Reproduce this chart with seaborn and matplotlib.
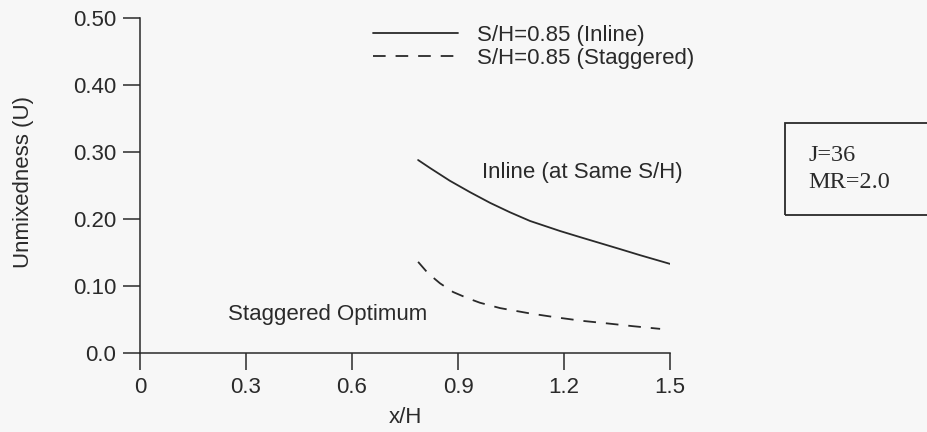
import matplotlib
matplotlib.use("Agg")
import matplotlib.pyplot as plt
import matplotlib.patches as mpatches
import numpy as np
import pandas as pd
import seaborn as sns

# Unmixedness vs. downstream distance, J=36, MR=2.0
inline_x = [0.787, 0.821, 0.877, 0.934, 0.991, 1.047, 1.104, 1.189, 1.245, 1.302, 1.359, 1.415, 1.500]
inline_u = [0.288, 0.276, 0.257, 0.240, 0.224, 0.210, 0.197, 0.182, 0.173, 0.164, 0.155, 0.146, 0.133]

staggered_x = [0.787, 0.815, 0.849, 0.886, 0.926, 0.962, 1.019, 1.104, 1.180, 1.251, 1.325, 1.395, 1.472]
staggered_u = [0.136, 0.119, 0.104, 0.091, 0.082, 0.075, 0.067, 0.059, 0.053, 0.048, 0.044, 0.040, 0.036]

series_labels = ["S/H=0.85 (Inline)", "S/H=0.85 (Staggered)"]
x_ticks = [0, 0.3, 0.6, 0.9, 1.2, 1.5]
x_tick_labels = ["0", "0.3", "0.6", "0.9", "1.2", "1.5"]
y_ticks = [0.0, 0.10, 0.20, 0.30, 0.40, 0.50]
y_tick_labels = ["0.0", "0.10", "0.20", "0.30", "0.40", "0.50"]

df = pd.concat([
    pd.DataFrame({"x": inline_x, "u": inline_u, "series": series_labels[0]}),
    pd.DataFrame({"x": staggered_x, "u": staggered_u, "series": series_labels[1]}),
])

sns.set_theme(style="ticks")
bg = "#f7f7f7"
ink = "#2a2a2a"
fs = 16
plt.rcParams["font.family"] = ["Liberation Sans", "DejaVu Sans"]

fig = plt.figure(figsize=(9.28, 4.32), dpi=100, facecolor=bg)
ax = fig.add_axes([0.1509, 0.1829, 0.5711, 0.7755])
ax.set_facecolor(bg)

sns.lineplot(data=df, x="x", y="u", style="series", style_order=series_labels,
             dashes={series_labels[0]: "", series_labels[1]: (7, 5.5)},
             color=ink, linewidth=1.3, sort=False, estimator=None, ax=ax)

handles, labels = ax.get_legend_handles_labels()
ax.legend(handles, labels, loc="upper left", bbox_to_anchor=(0.44, 0.98),
          frameon=False, fontsize=fs, handlelength=3.8, handletextpad=0.85,
          labelspacing=0.1, borderpad=0, borderaxespad=0, labelcolor=ink)

ax.set_xlim(0, 1.5)
ax.set_ylim(0, 0.5)
ax.set_xticks(x_ticks)
ax.set_xticklabels(x_tick_labels)
ax.set_yticks(y_ticks)
ax.set_yticklabels(y_tick_labels)
ax.tick_params(axis="both", direction="out", length=12, width=1.1, color=ink,
               labelsize=fs, labelcolor=ink, pad=5)
for side in ("top", "right"):
    ax.spines[side].set_visible(False)
for side in ("left", "bottom"):
    ax.spines[side].set_color(ink)
    ax.spines[side].set_linewidth(1.1)

ax.set_xlabel("x/H", fontsize=fs, color=ink, labelpad=7)
ax.set_ylabel("Unmixedness (U)", fontsize=fs, color=ink)
ax.yaxis.set_label_coords(-0.200, 0.51)

ax.text(0.968, 0.27, "Inline (at Same S/H)", fontsize=fs, color=ink, va="center", ha="left")
ax.text(0.249, 0.058, "Staggered Optimum", fontsize=fs, color=ink, va="center", ha="left")

# Operating-condition box at the right edge
box = mpatches.Rectangle((0.846, 0.502), 0.3, 0.213, transform=fig.transFigure,
                         fill=False, edgecolor=ink, linewidth=1.3, clip_on=False)
fig.patches.append(box)
serif = ["Liberation Serif", "DejaVu Serif"]
fig.text(0.871, 0.641, "J=36", fontsize=17.5, color=ink, va="center", ha="left", family=serif)
fig.text(0.871, 0.577, "MR=2.0", fontsize=17.5, color=ink, va="center", ha="left", family=serif)

fig.savefig("out.png", dpi=100, facecolor=bg)
